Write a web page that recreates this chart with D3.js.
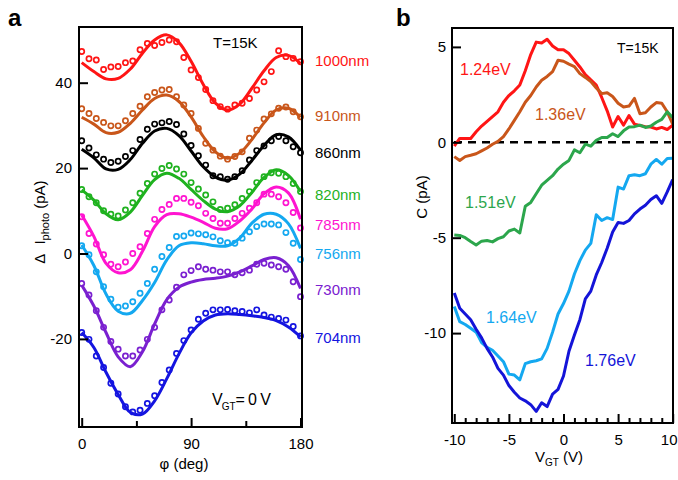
<!DOCTYPE html>
<meta charset="utf-8">
<script src="https://d3js.org/d3.v7.min.js"></script>
<style>
  body { margin: 0; background: #fff; }
  svg text { font-family: "Liberation Sans", Arial, Helvetica, sans-serif; }
</style>

<div id="my_viz"></div>

<script>

// ---------- panel a data (delta I_photo in pA vs polarisation angle) ----------
var phiDots = [0,6,12,18,24,30,36,42,48,54,60,66,72,78,84,90,96,102,108,114,120,126,132,138,144,150,156,162,168,174,180];
var phiFit = [0,10,20,30,40,50,60,70,80,90,100,110,120,130,140,150,160,170,180];
var wavelengths = ["1000nm","910nm","860nm","820nm","785nm","756nm","730nm","704nm"];

var dots1000 = [47.3,45.6,45.3,43.1,43.7,43.8,44.7,45.1,47.7,49.2,48.7,49.4,50.0,49.6,45.9,43.0,41.2,38.4,35.8,34.4,33.8,34.8,35.2,36.3,38.3,40.2,42.6,47.5,46.1,45.7,44.9];
var dots910 = [33.9,32.8,31.6,30.7,29.9,29.9,31.1,32.8,34.5,36.7,37.7,38.3,38.4,36.7,34.8,32.8,29.3,25.8,24.2,22.8,22.1,22.7,23.8,27.0,28.9,31.5,32.7,34.0,34.3,33.2,32.0];
var dots860 = [26.4,24.7,23.1,22.1,21.3,21.6,22.7,24.1,26.7,29.1,30.3,30.6,30.9,30.2,28.0,25.3,22.9,20.7,18.2,18.0,17.4,18.0,19.4,21.9,24.1,25.2,26.4,27.4,26.4,25.0,23.6];
var dots820 = [15.0,13.3,11.9,10.0,9.2,8.8,10.2,11.9,14.1,16.4,18.6,19.9,20.6,19.8,18.6,16.6,15.1,13.7,12.1,10.3,10.6,11.4,12.9,14.5,16.6,18.0,18.9,18.8,18.0,16.4,14.5];
var dots785 = [8.6,4.7,2.2,-0.3,-2.5,-3.1,-2.0,0.0,1.6,4.7,8.0,10.3,11.5,12.9,12.9,12.0,11.2,9.4,8.2,7.1,7.1,8.2,9.4,10.6,11.9,13.9,13.9,13.3,11.9,9.6,6.0];
var dots756 = [1.8,-0.3,-4.3,-7.8,-10.7,-12.6,-12.3,-11.3,-9.3,-7.0,-3.7,-0.7,1.4,4.0,4.1,4.8,4.6,4.4,3.9,3.0,2.5,2.4,3.6,5.1,6.3,6.9,6.9,6.7,4.9,2.4,-1.4];
var dots730 = [-7.0,-9.7,-13.4,-17.3,-20.6,-22.4,-24.0,-24.0,-22.6,-20.1,-17.3,-13.2,-10.9,-7.9,-5.0,-4.0,-3.1,-3.7,-3.9,-4.3,-4.3,-5.0,-4.5,-3.9,-2.5,-2.3,-2.7,-3.1,-3.7,-6.6,-10.1];
var dots704 = [-18.5,-20.1,-24.0,-26.7,-30.4,-32.9,-35.9,-37.1,-36.7,-35.1,-33.3,-30.2,-27.3,-23.4,-20.4,-17.9,-15.4,-14.0,-13.2,-13.2,-13.1,-13.4,-13.6,-13.9,-13.2,-14.4,-14.9,-15.2,-15.6,-17.1,-19.3];

var fit1000 = [44.7,42.6,40.9,41.0,43.2,46.9,50.0,51.2,49.4,45.0,39.6,35.2,33.6,35.0,38.7,42.8,45.9,46.4,44.5];
var fit910 = [31.9,30.3,28.3,28.4,30.5,33.6,36.3,37.1,35.6,32.0,27.4,23.8,22.3,23.5,26.7,30.6,33.6,34.0,31.9];
var fit860 = [24.4,22.4,19.8,19.7,22.0,25.8,28.7,29.3,27.6,24.0,20.3,17.9,17.2,18.6,21.8,25.3,27.8,27.3,24.2];
var fit820 = [14.9,12.5,9.3,7.9,9.7,13.6,17.3,18.8,17.6,15.0,12.4,10.4,9.8,11.2,14.3,17.8,19.6,18.3,14.5];
var fit785 = [9.0,4.0,-2.3,-4.5,-3.8,0.5,6.3,9.1,9.3,8.5,7.3,5.9,5.8,7.6,10.4,14.0,15.6,14.2,8.0];
var fit756 = [2.0,-2.8,-9.5,-13.5,-14.0,-11.0,-6.8,-1.5,1.8,2.5,2.3,1.8,1.8,3.6,7.1,9.2,9.2,7.0,1.2];
var fit730 = [-7.4,-12.3,-18.5,-24.2,-26.5,-23.0,-16.5,-10.8,-7.9,-6.7,-6.1,-5.8,-5.3,-4.3,-2.9,-1.4,-1.0,-2.8,-8.2];
var fit704 = [-18.5,-22.0,-27.8,-33.0,-37.2,-37.6,-34.5,-29.3,-23.5,-18.6,-15.8,-14.4,-14.1,-14.3,-14.6,-15.0,-15.7,-17.2,-19.5];

var ticksA_x = [0, 90, 180];
var minorA_x = [45, 135];
var ticksA_y = [40, 20, 0, -20];

// ---------- panel b data (C in pA vs gate voltage) ----------
var vgt = [-10,-9.5,-9,-8.5,-8,-7.5,-7,-6.5,-6,-5.5,-5,-4.5,-4,-3.5,-3,-2.5,-2,-1.5,-1,-0.5,0,0.5,1,1.5,2,2.5,3,3.5,4,4.5,5,5.5,6,6.5,7,7.5,8,8.5,9,9.5,10];
var energies = ["1.24eV","1.36eV","1.51eV","1.64eV","1.76eV"];

var c124 = [-0.2,0.2,0.2,0.2,0.55,0.85,1.1,1.35,1.6,2.1,2.45,2.7,3.0,3.75,4.6,5.25,5.2,5.4,5.05,4.85,4.85,4.65,4.3,3.95,3.55,3.28,3.0,2.35,1.65,0.8,1.35,0.9,1.4,0.95,0.88,0.82,0.8,0.7,0.78,0.67,0.9];
var c136 = [-0.75,-0.95,-0.75,-0.68,-0.6,-0.45,-0.3,-0.1,0.05,0.3,0.7,1.15,1.6,2.1,2.45,2.9,3.25,3.45,3.7,4.3,4.25,4.1,3.97,3.6,3.4,3.18,2.85,2.55,2.6,2.4,2.05,1.85,1.9,2.3,1.5,1.55,1.85,2.08,2.05,1.6,0.95];
var c151 = [-4.86,-4.88,-5.0,-5.2,-5.38,-5.18,-5.15,-5.22,-5.05,-4.95,-4.65,-4.55,-4.75,-3.35,-3.15,-2.7,-2.25,-2.0,-1.75,-1.4,-1.15,-0.95,-0.4,-0.55,-0.1,-0.2,0.1,0.25,0.25,0.45,0.3,0.6,0.8,0.82,0.9,0.78,0.85,1.05,1.2,1.6,1.3];
var c164 = [-8.6,-9.4,-9.55,-9.75,-9.95,-10.5,-10.75,-10.9,-11.2,-11.5,-12.15,-12.2,-12.45,-11.6,-11.5,-11.45,-11.35,-10.8,-9.95,-9.0,-8.45,-7.8,-6.9,-6.2,-5.65,-5.3,-3.8,-4.1,-3.95,-4.05,-2.35,-2.45,-1.75,-1.7,-1.75,-1.65,-1.15,-0.9,-1.15,-0.85,-0.84];
var c176 = [-7.9,-8.7,-9.0,-9.3,-9.8,-10.25,-10.8,-11.25,-11.85,-12.2,-12.75,-13.1,-13.4,-13.55,-13.75,-14.1,-13.65,-13.85,-13.2,-12.95,-12.25,-10.95,-10.1,-9.3,-8.2,-7.8,-6.95,-6.3,-5.55,-4.7,-4.2,-4.25,-4.1,-3.75,-3.5,-3.3,-3.0,-2.8,-3.2,-2.6,-1.95];

var ticksB_x = [-10, -5, 0, 5, 10];
var minorB_x = [-9,-8,-7,-6,-4,-3,-2,-1,1,2,3,4,6,7,8,9];
var ticksB_y = [5, 0, -5, -10];

// ---------- styling ----------
var colorsA = ["#ff1515", "#c9561a", "#000000", "#1fb21f", "#ff14d0", "#14a8f0", "#7a20d0", "#1414e0"];
var colorsB = ["#ff1515", "#c9561a", "#2ca64c", "#14a8f0", "#1414d8"];
var labelBaseA = [66, 121, 158, 200, 230, 259, 295, 343];

var svg = d3.select("#my_viz")
  .append("svg")
    .attr("width", 678)
    .attr("height", 480);

// ================= panel a =================
var frameA = {left: 79, right: 302, top: 27, bottom: 427};

var xA = d3.scaleLinear().domain([0, 180]).range([81.7, 300.5]);
var yA = d3.scaleLinear().domain([0, 40]).range([253.5, 82.7]);

var gA = svg.append("g");

// fit curves
var lineA = d3.line()
  .x(function(d) { return xA(d[0]); })
  .y(function(d) { return yA(d[1]); })
  .curve(d3.curveCatmullRom.alpha(0.5));

var fitsA = [fit1000, fit910, fit860, fit820, fit785, fit756, fit730, fit704];
var dotsA = [dots1000, dots910, dots860, dots820, dots785, dots756, dots730, dots704];

fitsA.forEach(function(vals, i) {
  gA.append("path")
    .datum(phiFit.map(function(p, j) { return [p, vals[j]]; }))
    .attr("d", lineA)
    .attr("fill", "none")
    .attr("stroke", colorsA[i])
    .attr("stroke-width", 3);
});

// measured points
dotsA.forEach(function(vals, i) {
  gA.append("g")
    .selectAll("circle")
    .data(phiDots.map(function(p, j) { return [p, vals[j]]; }))
    .enter()
    .append("circle")
      .attr("cx", function(d) { return xA(d[0]); })
      .attr("cy", function(d) { return yA(d[1]); })
      .attr("r", 2.6)
      .attr("fill", "none")
      .attr("stroke", colorsA[i])
      .attr("stroke-width", 1.7);
});

// frame
gA.append("rect")
  .attr("x", frameA.left).attr("y", frameA.top)
  .attr("width", frameA.right - frameA.left)
  .attr("height", frameA.bottom - frameA.top)
  .attr("fill", "none").attr("stroke", "#000").attr("stroke-width", 2);

// axes, ticks pointing inward
gA.append("g")
  .attr("transform", "translate(" + frameA.left + ",0)")
  .call(d3.axisLeft(yA).tickValues(ticksA_y).tickSizeInner(-9).tickSizeOuter(0).tickPadding(7)
    .tickFormat(function(d) { return String(d); }));
gA.append("g")
  .attr("transform", "translate(0," + frameA.bottom + ")")
  .call(d3.axisBottom(xA).tickValues(ticksA_x).tickSizeInner(-9).tickSizeOuter(0).tickPadding(11)
    .tickFormat(function(d) { return String(d); }));
gA.append("g")
  .attr("transform", "translate(0," + frameA.bottom + ")")
  .call(d3.axisBottom(xA).tickValues(minorA_x).tickSizeInner(-6).tickSizeOuter(0).tickFormat(""));

// wavelength labels
gA.selectAll("text.wl")
  .data(wavelengths)
  .enter()
  .append("text")
    .attr("class", "wl")
    .attr("x", 315)
    .attr("y", function(d, i) { return labelBaseA[i]; })
    .attr("fill", function(d, i) { return colorsA[i]; })
    .style("font-size", "15px")
    .text(function(d) { return d; });

gA.append("text")
  .attr("x", 213).attr("y", 48)
  .style("font-size", "15px")
  .text("T=15K");

var vgtA = gA.append("text")
  .attr("x", 212).attr("y", 405)
  .style("font-size", "16px");
vgtA.append("tspan").text("V");
vgtA.append("tspan").attr("dy", 5).attr("dx", -1).style("font-size", "10px").text("GT");
vgtA.append("tspan").attr("dy", -5).text("=\u20090\u2009V");

// axis titles
var ylabA = gA.append("text")
  .attr("transform", "translate(45,222) rotate(-90)")
  .attr("text-anchor", "middle")
  .style("font-size", "15px");
ylabA.append("tspan").text("\u0394");
ylabA.append("tspan").attr("dx", 9).text("I");
ylabA.append("tspan").attr("dy", 4).style("font-size", "11px").text("photo");
ylabA.append("tspan").attr("dy", -4).text(" (pA)");

gA.append("text")
  .attr("x", 184).attr("y", 469)
  .attr("text-anchor", "middle")
  .style("font-size", "15px")
  .text("\u03c6 (deg)");

gA.append("text")
  .attr("x", 8).attr("y", 26)
  .style("font-size", "24px").style("font-weight", "bold")
  .text("a");

// ================= panel b =================
var frameB = {left: 452, right: 673, top: 28, bottom: 423};

var xB = d3.scaleLinear().domain([-10, 10]).range([454.3, 672.7]);
var yB = d3.scaleLinear().domain([0, 5]).range([142.3, 46.9]);

var gB = svg.append("g");

// zero reference
gB.append("line")
  .attr("x1", frameB.left + 2).attr("x2", frameB.right - 2)
  .attr("y1", yB(0)).attr("y2", yB(0))
  .attr("stroke", "#000").attr("stroke-width", 2.5)
  .attr("stroke-dasharray", "8,6");

var lineB = d3.line()
  .x(function(d) { return xB(d[0]); })
  .y(function(d) { return yB(d[1]); });

var seriesB = [c124, c136, c151, c164, c176];
seriesB.forEach(function(vals, i) {
  gB.append("path")
    .datum(vgt.map(function(v, j) { return [v, vals[j]]; }))
    .attr("d", lineB)
    .attr("fill", "none")
    .attr("stroke", colorsB[i])
    .attr("stroke-width", 3)
    .attr("stroke-linejoin", "round");
});

gB.append("rect")
  .attr("x", frameB.left).attr("y", frameB.top)
  .attr("width", frameB.right - frameB.left)
  .attr("height", frameB.bottom - frameB.top)
  .attr("fill", "none").attr("stroke", "#000").attr("stroke-width", 2);

gB.append("g")
  .attr("transform", "translate(" + frameB.left + ",0)")
  .call(d3.axisLeft(yB).tickValues(ticksB_y).tickSizeInner(-9).tickSizeOuter(0).tickPadding(6)
    .tickFormat(function(d) { return String(d); }));
var axisBx = gB.append("g")
  .attr("transform", "translate(0," + frameB.bottom + ")")
  .call(d3.axisBottom(xB).tickValues(ticksB_x).tickSizeInner(-9).tickSizeOuter(0).tickPadding(11)
    .tickFormat(function(d) { return String(d); }));
// keep the last label inside the window
axisBx.selectAll(".tick text")
  .filter(function(d) { return d === 10; })
  .attr("dx", -4);
gB.append("g")
  .attr("transform", "translate(0," + frameB.bottom + ")")
  .call(d3.axisBottom(xB).tickValues(minorB_x).tickSizeInner(-5).tickSizeOuter(0).tickFormat(""));

// energy labels
var energyPos = [[460, 75], [535, 120], [465, 208], [486, 323], [585, 366]];
gB.selectAll("text.en")
  .data(energies)
  .enter()
  .append("text")
    .attr("class", "en")
    .attr("x", function(d, i) { return energyPos[i][0]; })
    .attr("y", function(d, i) { return energyPos[i][1]; })
    .attr("fill", function(d, i) { return colorsB[i]; })
    .style("font-size", "16px")
    .text(function(d) { return d; });

gB.append("text")
  .attr("x", 617).attr("y", 53)
  .style("font-size", "14px")
  .text("T=15K");

gB.append("text")
  .attr("transform", "translate(427,197) rotate(-90)")
  .attr("text-anchor", "middle")
  .style("font-size", "15px")
  .text("C (pA)");

var xlabB = gB.append("text")
  .attr("x", 559).attr("y", 462)
  .attr("text-anchor", "middle")
  .style("font-size", "15px");
xlabB.append("tspan").text("V");
xlabB.append("tspan").attr("dy", 4).style("font-size", "10px").text("GT");
xlabB.append("tspan").attr("dy", -4).text(" (V)");

gB.append("text")
  .attr("x", 396).attr("y", 26)
  .style("font-size", "24px").style("font-weight", "bold")
  .text("b");

// axis styling
svg.selectAll(".tick text").style("font-size", "15px").attr("fill", "#000");
svg.selectAll(".tick line").attr("stroke", "#000").attr("stroke-width", 2);
svg.selectAll(".domain").remove();

</script>
